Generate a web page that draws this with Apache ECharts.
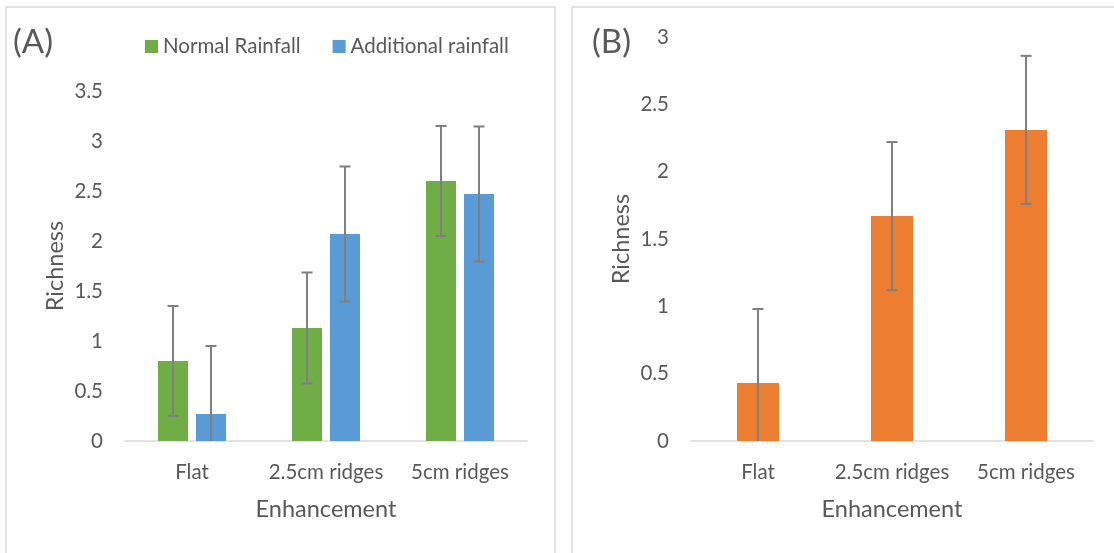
<!DOCTYPE html>
<html>
<head>
<meta charset="utf-8">
<script src="https://cdn.jsdelivr.net/npm/echarts@6/dist/echarts.min.js"></script>
<style>html,body{margin:0;padding:0;background:#fff;}#c{width:1114px;height:553px;}</style>
</head>
<body>
<div id="c"></div>
<script>
// ---- data ----
var categories = ['Flat', '2.5cm ridges', '5cm ridges'];
var normalRainfall = [0.80, 1.13, 2.60];
var normalErr = [0.55, 0.555, 0.55];
var additionalRainfall = [0.27, 2.07, 2.47];
var additionalErr = [0.68, 0.675, 0.675];
var panelB = [0.43, 1.67, 2.31];
var panelBErr = [0.55, 0.55, 0.55];
var yTicksA = [0, 0.5, 1, 1.5, 2, 2.5, 3, 3.5];
var yTicksB = [0, 0.5, 1, 1.5, 2, 2.5, 3];

var FONT = 'Lato';
var TXT = '#595959';
var AXIS = '#D9D9D9';
var ERR = '#7F7F7F';

var BW_A = 30, GAP_A = 8, BW_B = 42;

function errSeries(name, xi, yi, vals, errs, offset) {
  return {
    type: 'custom', name: name, xAxisIndex: xi, yAxisIndex: yi, z: 10,
    silent: true,
    data: vals.map(function (v, i) { return [i, v, errs[i]]; }),
    renderItem: function (params, api) {
      var i = api.value(0), v = api.value(1), e = api.value(2);
      var hi = api.coord([i, v + e]);
      var lo = api.coord([i, Math.max(0, v - e)]);
      var x = hi[0] + offset;
      var cap = 5.5;
      var st = { stroke: ERR, lineWidth: 2 };
      var children = [
        { type: 'line', shape: { x1: x, y1: hi[1], x2: x, y2: lo[1] }, style: st },
        { type: 'line', shape: { x1: x - cap, y1: hi[1], x2: x + cap, y2: hi[1] }, style: st }
      ];
      if (v - e > 0) {
        children.push({ type: 'line', shape: { x1: x - cap, y1: lo[1], x2: x + cap, y2: lo[1] }, style: st });
      }
      return { type: 'group', children: children };
    }
  };
}

function xAxis(gi) {
  return {
    type: 'category', gridIndex: gi, data: categories,
    axisLine: { lineStyle: { color: AXIS, width: 1.5 } },
    axisTick: { show: false },
    axisLabel: { color: TXT, fontFamily: FONT, fontSize: 20.5, margin: 21, interval: 0, hideOverlap: false },
    name: 'Enhancement', nameLocation: 'middle', nameGap: 56,
    nameTextStyle: { color: TXT, fontFamily: FONT, fontSize: 23.5 }
  };
}
function yAxis(gi, ticks) {
  return {
    type: 'value', gridIndex: gi, min: ticks[0], max: ticks[ticks.length - 1], interval: ticks[1] - ticks[0],
    splitLine: { show: false }, axisLine: { show: false }, axisTick: { show: false },
    axisLabel: { color: TXT, fontFamily: FONT, fontSize: 20.5, margin: 22 },
    name: 'Richness', nameLocation: 'middle', nameGap: 58,
    nameTextStyle: { color: TXT, fontFamily: FONT, fontSize: 23.5 }
  };
}

var chart = echarts.init(document.getElementById('c'), null, { renderer: 'canvas' });
chart.setOption({
  backgroundColor: '#fff',
  animation: false,
  graphic: [
    { type: 'rect', shape: { x: 6, y: 7, width: 549, height: 560 }, style: { fill: 'none', stroke: AXIS, lineWidth: 1.5 }, z: 0 },
    { type: 'rect', shape: { x: 572, y: 7, width: 560, height: 560 }, style: { fill: 'none', stroke: AXIS, lineWidth: 1.5 }, z: 0 },
    { type: 'text', left: 13, top: 26, style: { text: '(A)', fill: TXT, font: '33px Lato' } },
    { type: 'text', left: 592, top: 26, style: { text: '(B)', fill: TXT, font: '33px Lato' } }
  ],
  legend: {
    left: 140, top: 31, itemWidth: 13, itemHeight: 13, itemGap: 32,
    icon: 'rect',
    data: ['Normal Rainfall', 'Additional rainfall'],
    textStyle: { color: TXT, fontFamily: FONT, fontSize: 20.5 }
  },
  grid: [
    { left: 125, right: 587, top: 91, bottom: 112 },
    { left: 691, right: 21, top: 37, bottom: 112 }
  ],
  xAxis: [xAxis(0), xAxis(1)],
  yAxis: [yAxis(0, yTicksA), yAxis(1, yTicksB)],
  series: [
    { type: 'bar', name: 'Normal Rainfall', xAxisIndex: 0, yAxisIndex: 0, data: normalRainfall,
      barWidth: BW_A, barGap: (GAP_A / BW_A * 100) + '%', itemStyle: { color: '#70AD47' } },
    { type: 'bar', name: 'Additional rainfall', xAxisIndex: 0, yAxisIndex: 0, data: additionalRainfall,
      barWidth: BW_A, barGap: (GAP_A / BW_A * 100) + '%', itemStyle: { color: '#5B9BD5' } },
    { type: 'bar', name: 'B', xAxisIndex: 1, yAxisIndex: 1, data: panelB,
      barWidth: BW_B, itemStyle: { color: '#ED7D31' } },
    errSeries('errN', 0, 0, normalRainfall, normalErr, -(BW_A + GAP_A) / 2),
    errSeries('errA', 0, 0, additionalRainfall, additionalErr, (BW_A + GAP_A) / 2),
    errSeries('errB', 1, 1, panelB, panelBErr, 0)
  ]
});
</script>
</body>
</html>
